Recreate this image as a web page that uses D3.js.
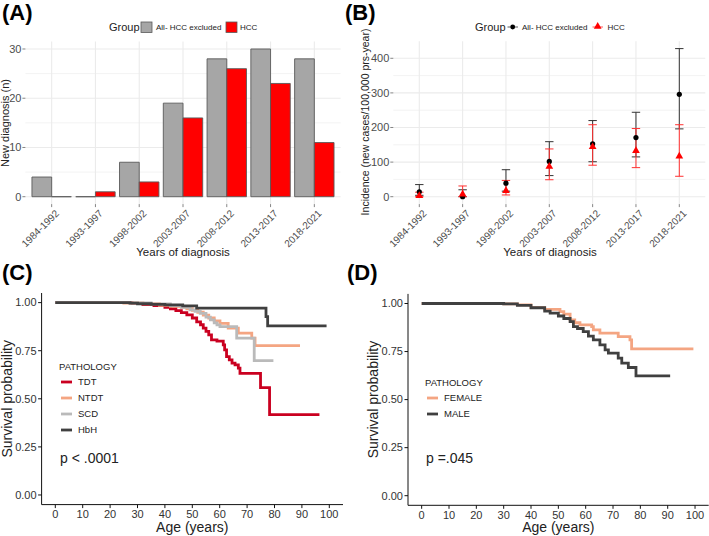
<!DOCTYPE html>
<html><head><meta charset="utf-8">
<script src="https://cdn.jsdelivr.net/npm/d3@7"></script>
<style>body{margin:0;background:#fff} svg{display:block;font-family:"Liberation Sans",Arial,Helvetica,sans-serif}</style>
</head><body><svg id="c" width="709" height="536"></svg>
<script>
// ---------- DATA ----------
const periods = ["1984-1992","1993-1997","1998-2002","2003-2007","2008-2012","2013-2017","2018-2021"];
const countAll = [4,0,7,19,28,30,28];
const countHCC = [0,1,3,16,26,23,11];

const incAll   = [14,0,39,102,153,171,296];
const incAllLo = [4,0,16,61,101,115,196];
const incAllHi = [35,20,78,159,220,244,428];
const incHCC   = [3,7,17,87,144,133,117];
const incHCCLo = [0,0,5,49,91,84,59];
const incHCCHi = [13,31,47,138,208,197,208];

const barTicks = [0,10,20,30];
const incTicks = [0,100,200,300,400];
const survTicks = [0,0.25,0.5,0.75,1];
const ageTicks = [0,10,20,30,40,50,60,70,80,90,100];

const tdtT = [0,28,32,36,40,42,44,46,48,50,51.6,53,54,55,56,57,59,61.3,61.8,62.5,63.5,64.5,65.6,66.8,67.4,74.9,78.2,96.4];
const tdtS = [1,0.996,0.99,0.984,0.975,0.968,0.958,0.948,0.936,0.92,0.9,0.885,0.867,0.85,0.832,0.806,0.8,0.78,0.754,0.719,0.702,0.685,0.676,0.659,0.632,0.558,0.418,0.418];
const ntdtT = [0,25,32,38,42,46,48,50,52,54,56,58,60.1,63.1,66.8,71.7,72.9,89.3];
const ntdtS = [1,0.998,0.994,0.986,0.98,0.975,0.968,0.96,0.95,0.935,0.92,0.905,0.892,0.867,0.841,0.815,0.776,0.776];
const scdT = [0,27,35,42,46,49.2,51,52.9,55,56.6,58,59,60.1,66.2,72.6,79.6];
const scdS = [1,0.998,0.993,0.985,0.975,0.962,0.955,0.944,0.925,0.91,0.895,0.884,0.875,0.815,0.698,0.698];
const hbhT = [0,27.3,30,35,40,46.5,51.6,76.9,77.5,99];
const hbhS = [1,0.997,0.994,0.991,0.988,0.983,0.971,0.927,0.879,0.879];

const femT = [0,30,35,40,45,50.6,52,54.3,56,57.9,62.2,62.8,65.2,71.9,76.2,76.8,99.4];
const femS = [1,0.998,0.993,0.979,0.97,0.958,0.945,0.915,0.9,0.889,0.88,0.863,0.846,0.828,0.811,0.764,0.764];
const maleT = [0,30,35,40,45,47,50,52,54.3,55.5,57,59.1,61,62.8,65.2,67.1,68.3,71.9,73.2,75.6,78.4,90.9];
const maleS = [1,0.998,0.99,0.978,0.96,0.95,0.935,0.922,0.906,0.88,0.87,0.854,0.83,0.811,0.785,0.759,0.742,0.716,0.69,0.667,0.623,0.623];

// ---------- DRAW ----------
const svg = d3.select("#c");
const GRID = "#ebebeb", TXT = "#4d4d4d";

function title(x,y,t){ svg.append("text").attr("x",x).attr("y",y).attr("font-size",22).attr("font-weight","bold").attr("fill","#000").text(t); }
title(2,20,"(A)"); title(345,20,"(B)"); title(2,280,"(C)"); title(347,280,"(D)");

function minimalPanel(x, y, yTicks, yMinor, x0, x1){
  const g = svg.append("g");
  const [yb,yt] = y.range();
  yMinor.forEach(v=>g.append("line").attr("x1",x0).attr("x2",x1).attr("y1",y(v)).attr("y2",y(v)).attr("stroke",GRID).attr("stroke-width",0.6));
  yTicks.forEach(v=>g.append("line").attr("x1",x0).attr("x2",x1).attr("y1",y(v)).attr("y2",y(v)).attr("stroke",GRID).attr("stroke-width",1.1));
  periods.forEach(p=>g.append("line").attr("x1",x(p)).attr("x2",x(p)).attr("y1",yb).attr("y2",yt).attr("stroke",GRID).attr("stroke-width",1.1));
  yTicks.forEach(v=>{
    g.append("line").attr("x1",x0-3).attr("x2",x0).attr("y1",y(v)).attr("y2",y(v)).attr("stroke","#333").attr("stroke-width",0.6);
    g.append("text").attr("x",x0-4).attr("y",y(v)).attr("dy","0.35em").attr("text-anchor","end").attr("font-size",11).attr("fill",TXT).text(v);
  });
  periods.forEach(p=>{
    g.append("line").attr("x1",x(p)).attr("x2",x(p)).attr("y1",yb).attr("y2",yb+3).attr("stroke","#333").attr("stroke-width",0.6);
    g.append("text").attr("transform",`translate(${x(p)+3},${yb+5}) rotate(-45)`).attr("text-anchor","end").attr("dy","0.7em").attr("font-size",10).attr("fill",TXT).text(p);
  });
  return g;
}
function barPath(x0,w,yTop,yBot){ return `M${x0},${yBot}V${yTop}H${x0+w}V${yBot}Z`; }

// Panel A
const xA = d3.scalePoint().domain(periods).range([25.4,340.6]).padding(0.6);
const yA = d3.scaleLinear().domain([-1.5,31.5]).range([204.1,41.6]);
minimalPanel(xA,yA,barTicks,[5,15,25],25.4,340.6);
const bw = xA.step()*0.9/2;
const gA = svg.append("g");
periods.forEach((p,i)=>{
  gA.append("path").attr("d",barPath(xA(p)-bw,bw,yA(countAll[i]),yA(0)))
    .attr("fill","#a6a6a6").attr("stroke","#5a5a5a").attr("stroke-width",0.9);
  gA.append("path").attr("d",barPath(xA(p),bw,yA(countHCC[i]),yA(0)))
    .attr("fill","#ff0000").attr("stroke","#5a5a5a").attr("stroke-width",0.9);
});
svg.append("text").attr("x",183).attr("y",256).attr("text-anchor","middle").attr("font-size",11.5).attr("fill","#222").text("Years of diagnosis");
svg.append("text").attr("transform","translate(9,123) rotate(-90)").attr("text-anchor","middle").attr("font-size",11).attr("fill","#222").text("New diagnosis (n)");
// legend A
svg.append("text").attr("x",109).attr("y",27).attr("dy","0.35em").attr("font-size",11).attr("fill","#222").text("Group");
svg.append("rect").attr("x",141).attr("y",22).attr("width",11).attr("height",10.5).attr("fill","#a6a6a6").attr("stroke","#5a5a5a").attr("stroke-width",0.8);
svg.append("text").attr("x",156).attr("y",27).attr("dy","0.35em").attr("font-size",8).attr("fill","#222").text("All- HCC excluded");
svg.append("rect").attr("x",226).attr("y",22).attr("width",11).attr("height",10.5).attr("fill","#ff0000").attr("stroke","#5a5a5a").attr("stroke-width",0.8);
svg.append("text").attr("x",240).attr("y",27).attr("dy","0.35em").attr("font-size",8).attr("fill","#222").text("HCC");

// Panel B
const xB = d3.scalePoint().domain(periods).range([393.3,705.3]).padding(0.6);
const yB = d3.scaleLinear().domain([-21.4,449.4]).range([204.1,41.2]);
minimalPanel(xB,yB,incTicks,[50,150,250,350],393.3,705.3);
const gB = svg.append("g");
const cap = 4.2;
function errbar(x,lo,hi,col){
  gB.append("line").attr("x1",x).attr("x2",x).attr("y1",yB(lo)).attr("y2",yB(hi)).attr("stroke",col).attr("stroke-width",1);
  [lo,hi].forEach(v=>gB.append("line").attr("x1",x-cap).attr("x2",x+cap).attr("y1",yB(v)).attr("y2",yB(v)).attr("stroke",col).attr("stroke-width",1));
}
const tri = d3.symbol().type(d3.symbolTriangle).size(26);
periods.forEach((p,i)=>{
  errbar(xB(p),incAllLo[i],incAllHi[i],"#333");
  errbar(xB(p),incHCCLo[i],incHCCHi[i],"#ff3030");
});
periods.forEach((p,i)=>{
  gB.append("circle").attr("cx",xB(p)).attr("cy",yB(incAll[i])).attr("r",2.6).attr("fill","#000");
  gB.append("path").attr("d",tri).attr("transform",`translate(${xB(p)},${yB(incHCC[i])})`).attr("fill","#ff0000");
});
svg.append("text").attr("x",550).attr("y",256).attr("text-anchor","middle").attr("font-size",11.5).attr("fill","#222").text("Years of diagnosis");
svg.append("text").attr("transform","translate(369,122) rotate(-90)").attr("text-anchor","middle").attr("font-size",10.5).attr("fill","#222").text("Incidence (new cases/100,000 prs-year)");
svg.append("text").attr("x",475).attr("y",27).attr("dy","0.35em").attr("font-size",11).attr("fill","#222").text("Group");
svg.append("line").attr("x1",507.5).attr("x2",518).attr("y1",27).attr("y2",27).attr("stroke","#333").attr("stroke-width",0.8);
svg.append("circle").attr("cx",512.7).attr("cy",27).attr("r",2.4).attr("fill","#000");
svg.append("text").attr("x",522).attr("y",27).attr("dy","0.35em").attr("font-size",8).attr("fill","#222").text("All- HCC excluded");
svg.append("line").attr("x1",592.5).attr("x2",603).attr("y1",27).attr("y2",27).attr("stroke","#ff3030").attr("stroke-width",0.8);
svg.append("path").attr("d",tri).attr("transform","translate(597.7,26.5)").attr("fill","#ff0000");
svg.append("text").attr("x",607.5).attr("y",27).attr("dy","0.35em").attr("font-size",8).attr("fill","#222").text("HCC");

// Survival panels
function kmPanel(x, y, curves, legendItems, lx, ly, ptext, ylabX){
  const g = svg.append("g");
  const [xl,xr] = x.range(), [yb,yt] = y.range();
  curves.forEach(c=>{
    const pts = c.t.map((t,i)=>[t,c.s[i]]);
    g.append("path").attr("d",d3.line().x(d=>x(d[0])).y(d=>y(d[1])).curve(d3.curveStepAfter)(pts))
      .attr("fill","none").attr("stroke",c.col).attr("stroke-width",2.8);
  });
  g.append("line").attr("x1",xl).attr("x2",xl).attr("y1",yt).attr("y2",yb).attr("stroke","#111").attr("stroke-width",1);
  g.append("line").attr("x1",xl).attr("x2",xr).attr("y1",yb).attr("y2",yb).attr("stroke","#111").attr("stroke-width",1);
  survTicks.forEach(v=>{
    g.append("line").attr("x1",xl-3.5).attr("x2",xl).attr("y1",y(v)).attr("y2",y(v)).attr("stroke","#111");
    g.append("text").attr("x",xl-5).attr("y",y(v)).attr("dy","0.35em").attr("text-anchor","end").attr("font-size",11).attr("fill","#333").text(d3.format(".2f")(v));
  });
  ageTicks.forEach(v=>{
    g.append("line").attr("x1",x(v)).attr("x2",x(v)).attr("y1",yb).attr("y2",yb+3.5).attr("stroke","#111");
    g.append("text").attr("x",x(v)).attr("y",yb+5).attr("dy","0.75em").attr("text-anchor","middle").attr("font-size",11).attr("fill","#333").text(v);
  });
  g.append("text").attr("x",(x(0)+x(100))/2).attr("y",532).attr("text-anchor","middle").attr("font-size",14).attr("fill","#222").text("Age (years)");
  g.append("text").attr("transform",`translate(${ylabX},${(y(0)+y(1))/2}) rotate(-90)`).attr("dy","0.35em").attr("text-anchor","middle").attr("font-size",14).attr("fill","#222").text("Survival probability");
  g.append("text").attr("x",lx-1).attr("y",ly).attr("dy","0.35em").attr("font-size",9.5).attr("fill","#222").text("PATHOLOGY");
  legendItems.forEach((it,i)=>{
    const yy = ly+15.5+i*16;
    g.append("line").attr("x1",lx+1).attr("x2",lx+12).attr("y1",yy).attr("y2",yy).attr("stroke",it.col).attr("stroke-width",2.8);
    g.append("text").attr("x",lx+18).attr("y",yy).attr("dy","0.35em").attr("font-size",9.5).attr("fill","#222").text(it.name);
  });
  g.append("text").attr("x",lx).attr("y",458.5).attr("dy","0.35em").attr("font-size",14).attr("fill","#222").text(ptext);
}
const RED="#ca0020", ORG="#f4a582", GRY="#bababa", DRK="#404040";
const xC = d3.scaleLinear().domain([-5,105]).range([41.6,343]);
const yC = d3.scaleLinear().domain([-0.05,1.05]).range([504.6,293]);
kmPanel(xC,yC,[
  {t:tdtT,s:tdtS,col:RED},{t:ntdtT,s:ntdtS,col:ORG},{t:scdT,s:scdS,col:GRY},{t:hbhT,s:hbhS,col:DRK}
],[{name:"TDT",col:RED},{name:"NTDT",col:ORG},{name:"SCD",col:GRY},{name:"HbH",col:DRK}],60,366.5,"p < .0001",7.5);
const xD = d3.scaleLinear().domain([-5,105]).range([408,708.7]);
const yD = d3.scaleLinear().domain([-0.05,1.05]).range([505.3,293.9]);
kmPanel(xD,yD,[{t:femT,s:femS,col:ORG},{t:maleT,s:maleS,col:DRK}],
  [{name:"FEMALE",col:ORG},{name:"MALE",col:DRK}],426,382.5,"p =.045",373);
</script></body></html>
